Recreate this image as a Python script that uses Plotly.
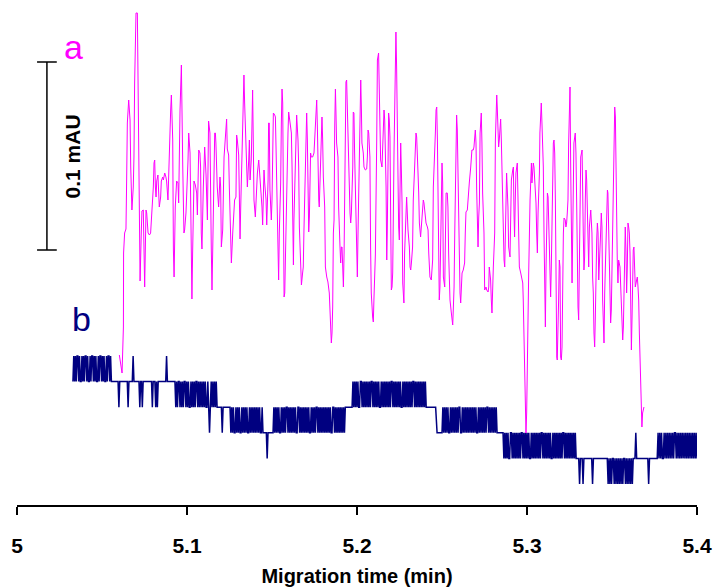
import numpy as np
import plotly.graph_objects as go

# ---------------- data: trace a (signal in ~µAU units, time in min) ----------------
a_time = [
 5.0602, 5.0618, 5.0626, 5.0627, 5.0633, 5.0641, 5.0645, 5.0649, 5.0657, 5.0665,
 5.0669, 5.0676, 5.0684, 5.0688, 5.0692, 5.0700, 5.0708, 5.0716, 5.0720, 5.0724,
 5.0731, 5.0735, 5.0743, 5.0747, 5.0751, 5.0759, 5.0763, 5.0771, 5.0779, 5.0786,
 5.0794, 5.0802, 5.0806, 5.0810, 5.0814, 5.0818, 5.0822, 5.0829, 5.0837, 5.0845,
 5.0849, 5.0857, 5.0861, 5.0869, 5.0876, 5.0880, 5.0888, 5.0896, 5.0904, 5.0908,
 5.0916, 5.0920, 5.0924, 5.0931, 5.0939, 5.0947, 5.0951, 5.0959, 5.0967, 5.0975,
 5.0979, 5.0982, 5.0986, 5.0994, 5.1006, 5.1010, 5.1018, 5.1022, 5.1026, 5.1029,
 5.1033, 5.1041, 5.1049, 5.1057, 5.1061, 5.1069, 5.1076, 5.1080, 5.1084, 5.1088,
 5.1096, 5.1104, 5.1112, 5.1120, 5.1127, 5.1135, 5.1143, 5.1147, 5.1151, 5.1155,
 5.1163, 5.1167, 5.1170, 5.1178, 5.1186, 5.1194, 5.1198, 5.1202,
 5.1210, 5.1218, 5.1229, 5.1233, 5.1237, 5.1245, 5.1249, 5.1257, 5.1261, 5.1269,
 5.1273, 5.1280, 5.1288, 5.1292, 5.1296, 5.1304, 5.1312, 5.1316, 5.1324, 5.1331,
 5.1335, 5.1339, 5.1347, 5.1355, 5.1363, 5.1367, 5.1371, 5.1378, 5.1382, 5.1386,
 5.1390, 5.1394, 5.1402, 5.1406, 5.1414, 5.1422, 5.1426, 5.1429, 5.1437, 5.1441,
 5.1445, 5.1449, 5.1453, 5.1457, 5.1465, 5.1469, 5.1477, 5.1480, 5.1484, 5.1488,
 5.1492, 5.1496, 5.1500, 5.1504, 5.1508, 5.1516, 5.1520, 5.1524, 5.1531, 5.1535,
 5.1539, 5.1543, 5.1551, 5.1555, 5.1559, 5.1563, 5.1567, 5.1571, 5.1575, 5.1578,
 5.1582, 5.1586, 5.1594, 5.1598, 5.1602, 5.1606, 5.1614, 5.1618, 5.1622, 5.1626,
 5.1629, 5.1637, 5.1641, 5.1645, 5.1653, 5.1657, 5.1661, 5.1665, 5.1669, 5.1673,
 5.1680, 5.1684, 5.1688, 5.1696, 5.1700, 5.1704, 5.1708, 5.1712, 5.1716, 5.1720,
 5.1724, 5.1727, 5.1731, 5.1739, 5.1747, 5.1751, 5.1759, 5.1763, 5.1767, 5.1771,
 5.1775, 5.1778, 5.1782, 5.1786, 5.1790, 5.1794, 5.1798, 5.1802, 5.1810, 5.1814,
 5.1822, 5.1829, 5.1837,
 5.1845, 5.1849, 5.1853, 5.1857, 5.1861, 5.1865, 5.1869, 5.1873, 5.1876, 5.1880,
 5.1888, 5.1892, 5.1900, 5.1904, 5.1908, 5.1912, 5.1916, 5.1920, 5.1924, 5.1927,
 5.1935, 5.1939, 5.1947, 5.1955, 5.1959, 5.1963, 5.1967, 5.1975, 5.1978, 5.1982,
 5.1986, 5.1994, 5.1998, 5.2002, 5.2006, 5.2014, 5.2018, 5.2022, 5.2026, 5.2029,
 5.2037, 5.2041, 5.2049, 5.2057, 5.2061, 5.2065, 5.2069, 5.2076, 5.2080, 5.2084,
 5.2092, 5.2096, 5.2100, 5.2104, 5.2108, 5.2116, 5.2120, 5.2127, 5.2131, 5.2139,
 5.2147, 5.2151, 5.2159, 5.2163, 5.2171, 5.2175, 5.2178, 5.2186, 5.2190, 5.2194,
 5.2198, 5.2202, 5.2206, 5.2210, 5.2218, 5.2222, 5.2229, 5.2233, 5.2237, 5.2245,
 5.2249, 5.2253, 5.2257, 5.2261, 5.2265, 5.2269, 5.2276, 5.2280, 5.2288, 5.2292,
 5.2300, 5.2308, 5.2312, 5.2316, 5.2320, 5.2327, 5.2331, 5.2335, 5.2339, 5.2343,
 5.2347, 5.2351, 5.2355, 5.2359, 5.2363, 5.2367, 5.2374, 5.2382, 5.2390, 5.2394,
 5.2398, 5.2402, 5.2406, 5.2414, 5.2418, 5.2422, 5.2426, 5.2429, 5.2437, 5.2441,
 5.2445, 5.2449, 5.2453, 5.2457, 5.2461, 5.2465, 5.2469,
 5.2473, 5.2476, 5.2480, 5.2484, 5.2488, 5.2492, 5.2500, 5.2504, 5.2508, 5.2516,
 5.2520, 5.2524, 5.2531, 5.2535, 5.2539, 5.2543, 5.2547, 5.2555, 5.2563, 5.2567,
 5.2571, 5.2575, 5.2578, 5.2582, 5.2586, 5.2590, 5.2594, 5.2598, 5.2602, 5.2606,
 5.2610, 5.2614, 5.2618, 5.2625, 5.2633, 5.2637, 5.2641, 5.2649, 5.2653, 5.2657,
 5.2661, 5.2669, 5.2672, 5.2676, 5.2684, 5.2688, 5.2696, 5.2700, 5.2704, 5.2708,
 5.2712, 5.2716, 5.2720, 5.2724, 5.2727, 5.2731, 5.2735, 5.2739, 5.2747, 5.2751,
 5.2759, 5.2763, 5.2771, 5.2775, 5.2778, 5.2786, 5.2790, 5.2794, 5.2802, 5.2810,
 5.2814, 5.2818, 5.2822, 5.2825, 5.2829, 5.2833, 5.2837, 5.2841, 5.2845, 5.2849,
 5.2853, 5.2857, 5.2865, 5.2869, 5.2873, 5.2876, 5.2880, 5.2888, 5.2892, 5.2900,
 5.2904, 5.2908, 5.2916, 5.2920, 5.2924, 5.2927, 5.2931, 5.2935, 5.2943, 5.2947,
 5.2951, 5.2955, 5.2963, 5.2971, 5.2975, 5.2978, 5.2982, 5.2986, 5.2990, 5.2994,
 5.2998, 5.3002, 5.3006, 5.3010, 5.3018, 5.3022, 5.3026, 5.3029, 5.3033, 5.3037,
 5.3041, 5.3045, 5.3053, 5.3057, 5.3061, 5.3065, 5.3073, 5.3076, 5.3084, 5.3088,
 5.3096, 5.3100, 5.3104, 5.3108,
 5.3112, 5.3116, 5.3120, 5.3124, 5.3127, 5.3131, 5.3135, 5.3139, 5.3143, 5.3147,
 5.3151, 5.3155, 5.3159, 5.3163, 5.3167, 5.3171, 5.3175, 5.3178, 5.3182, 5.3186,
 5.3190, 5.3194, 5.3198, 5.3202, 5.3206, 5.3210, 5.3214, 5.3218, 5.3225, 5.3229,
 5.3233, 5.3237, 5.3241, 5.3245, 5.3249, 5.3253, 5.3257, 5.3261, 5.3265, 5.3269,
 5.3273, 5.3276, 5.3284, 5.3288, 5.3292, 5.3296, 5.3300, 5.3304, 5.3308, 5.3312,
 5.3316, 5.3324, 5.3327, 5.3331, 5.3335, 5.3339, 5.3343, 5.3347, 5.3351, 5.3355,
 5.3359, 5.3363, 5.3367, 5.3371, 5.3375, 5.3378, 5.3382, 5.3386, 5.3390, 5.3394,
 5.3398, 5.3402, 5.3406, 5.3410, 5.3414, 5.3418, 5.3422, 5.3425, 5.3429, 5.3433,
 5.3437, 5.3441, 5.3445, 5.3449, 5.3453, 5.3457, 5.3461, 5.3465, 5.3469, 5.3473,
 5.3476, 5.3480, 5.3484, 5.3488, 5.3492, 5.3496, 5.3500, 5.3504, 5.3508, 5.3512,
 5.3516, 5.3520, 5.3524, 5.3527, 5.3531, 5.3535, 5.3539, 5.3547, 5.3551, 5.3555,
 5.3559, 5.3563, 5.3567, 5.3571, 5.3575, 5.3578, 5.3582, 5.3586, 5.3590, 5.3594,
 5.3598, 5.3602, 5.3606, 5.3610, 5.3614, 5.3618, 5.3622, 5.3625, 5.3629, 5.3633,
 5.3637, 5.3645, 5.3649, 5.3653, 5.3657, 5.3661, 5.3665, 5.3669, 5.3673, 5.3676,
 5.3680, 5.3684, 5.3688,
]
a_signal = [
 75, 66, 89, 126, 136, 138, 162.5, 191, 202.5, 192.5,
 169, 147.5, 159, 174, 211, 246, 246, 182.5, 129, 112,
 136, 147, 147.5, 121, 109, 147.5, 146, 136, 135, 136,
 146, 159, 171, 172.5, 159, 154, 162, 165, 149, 154,
 162, 164, 162.5, 166, 164, 162, 152.5, 181, 197.5, 205,
 182.5, 127.5, 114, 149, 162, 161, 151, 197.5, 220, 169,
 149, 136, 137.5, 146, 172.5, 186, 176, 152.5, 121, 103,
 126, 162, 160, 156, 145, 177.5, 176, 169, 136, 128,
 159, 179, 165, 142.5, 192, 186, 127.5, 107.5, 126, 152.5,
 186, 186, 181, 159, 149, 164, 159, 129,
 137.5, 174, 192.5, 193, 178, 175, 159, 126, 121, 136,
 144, 152.5, 154, 185, 182.5, 175, 133, 149, 179, 214,
 215, 201, 174, 159, 172.5, 182.5, 162.5, 172.5, 189, 207.5,
 181, 152.5, 144, 152.5, 166, 172.5, 167.5, 166, 156, 149,
 140, 159, 167.5, 161, 152.5, 140, 162.5, 191, 191, 157.5,
 151, 142.5, 152.5, 186, 196, 195, 194, 177.5, 146, 126,
 112.5, 136, 161, 191, 208, 201, 152.5, 104, 106, 119,
 139, 159, 186, 196.5, 194, 189, 186, 169, 132.5, 120,
 142.5, 172.5, 187.5, 195, 182.5, 169, 139, 126, 116, 110,
 116, 119, 137.5, 176, 189, 196, 182.5, 152.5, 136.5, 144,
 159, 176, 174, 174, 176, 182.5, 202.5, 202.5, 189, 159,
 152.5, 149, 162.5, 174, 192.5, 194, 182.5, 164, 149, 119,
 114, 111.5, 106,
 89, 81, 86, 99, 136, 142.5, 189, 208, 197.5, 181,
 174, 149, 129, 121, 129, 129, 119, 109, 126, 159,
 211.5, 212.5, 179, 154, 146, 141, 146, 169, 196.5, 196,
 176, 136, 129, 114, 136, 186, 204, 212.5, 197.5, 181,
 176, 169, 167.5, 168, 174, 187.5, 186, 174, 128.5, 106,
 94, 91.5, 104, 116, 125, 182.5, 222.5, 226, 211, 172.5,
 169, 179, 197.5, 192.5, 159, 122.5, 136, 196, 192.5, 184,
 144, 107.5, 109, 116, 177.5, 202.5, 236.5, 219, 189, 139,
 132.5, 171, 181, 167.5, 151, 111, 101, 126, 154, 154,
 137.5, 129, 119, 117.5, 121, 129, 152.5, 167.5, 169, 177.5,
 186, 184, 177.5, 166, 156, 141, 134, 146, 152.5, 151,
 146, 142.5, 141, 139, 137.5, 126, 116, 114, 112.5, 116,
 122.5, 159, 172.5, 176, 186, 197.5, 199,
 182.5, 166, 126, 102.5, 109, 136, 171, 161, 114, 109,
 136, 156, 156, 149, 126, 106, 102.5, 96, 90, 99,
 109, 136, 159, 186, 195, 187.5, 162.5, 132.5, 112.5, 106,
 101, 106, 116, 117.5, 121, 136, 146.5, 147.5, 152.5, 161,
 161.5, 169, 176, 177.5, 177.5, 179, 187.5, 181, 157.5, 139,
 129, 144, 151, 186, 196, 196, 181, 156, 136, 107.5,
 109, 107.5, 106.5, 109, 119, 112.5, 102.5, 96, 119, 136,
 182.5, 204, 205, 199, 189, 179, 182.5, 192.5, 193, 182.5,
 166, 137.5, 122.5, 119, 137.5, 161, 166, 149, 129, 124,
 152.5, 162.5, 167.5, 169, 144, 134, 152.5, 166, 171, 152.5,
 129, 119, 116, 112.5, 111, 102.5, 86, 52.5, 47.5, 36,
 46, 81, 92.5, 116, 152.5, 169, 171, 161, 167.5, 171,
 169, 164, 151, 136, 126, 146, 166, 186, 201, 191,
 169, 136, 97.5, 89,
 119, 147.5, 156, 154, 146, 126, 114, 104, 119, 136,
 169, 181, 182.5, 176, 152.5, 102.5, 74, 72.5, 82.5, 102.5,
 122.5, 119, 74, 72.5, 79, 116, 136, 143.5, 142.5, 139,
 141, 146, 152.5, 181, 202.5, 209, 169, 127.5, 111, 136,
 162.5, 181, 186, 176, 152.5, 119, 99, 92.5, 116, 159,
 174, 177.5, 166, 136, 117.5, 124, 152.5, 167.5, 162.5, 144,
 126, 119, 139, 146, 147.5, 142.5, 136, 114, 106, 86,
 79, 94, 119, 132.5, 141, 136, 112.5, 122.5, 127.5, 136,
 146, 139, 102.5, 84, 81, 106, 119, 142.5, 152.5, 157.5,
 156, 136, 109, 94, 91, 97.5, 119, 152.5, 177.5, 189,
 199, 194, 159, 132.5, 122.5, 111, 122.5, 119, 111, 102.5,
 91, 82.5, 89, 119, 132.5, 139, 127.5, 106, 119, 141,
 139, 136, 126, 102.5, 77.5, 94, 126, 127.5, 129, 119,
 109, 112.5, 114, 109, 102.5, 86, 69, 61, 46, 39,
 46, 47.5, 49,
]

# ---------------- data: trace b (quantised detector levels) ----------------
b_levels = [74.5, 61.7, 48.9, 36.1, 23.3, 10.5]
# (segment start, segment end, sequence of level indices sampled evenly in the segment)
b_segments = [
    (5.0329, 5.0565, "1010100101101010010110100101011010010101101001011"),
    (5.0565, 5.0929, "1111111" "2" "1111111111" "2" "11111" "0" "1111111" "2" "11" "2"
                     "11111111111" "2" "111" "2" "1" "2" "1111111111" "0" "111111111"),
    (5.0929, 5.1182, "12121121212112121221212121121212121212212" "3" "212121212"),
    (5.1182, 5.1253, "22222322222222"),
    (5.1253, 5.1447, "232323323232332323232332323232323232332"),
    (5.1447, 5.1506, "333334333333"),
    (5.1506, 5.1941, "32323232332323232232323232323322323232323232332323232232323232323232323322323232323232322"),
    (5.1941, 5.1976, "2222222"),
    (5.1976, 5.2412, "12121212211212121212121121212121221212121212121121212121212212121212121211212121212121212"),
    (5.2412, 5.2471, "2222222"),
    (5.2471, 5.2500, "3333"),
    (5.2500, 5.2829, "323232323323232323232233232323232323232323323232323232232323232323"),
    (5.2829, 5.2859, "33333"),
    (5.2859, 5.3294, "34343434433434343434343343434343443434343434343343434343434434343434343433434343434343434"),
    (5.3294, 5.3635, "444" "5" "444" "5" "4444444444" "5" "4444444444444444"
                     "4545454454545454545445454545454" "4"),
    (5.3635, 5.3771, "43" "44444444444444" "5" "4444444444"),
    (5.3771, 5.4000, "3434344343434343434334343434343434343434343434"),
]

x_ticks = [5.0, 5.1, 5.2, 5.3, 5.4]
x_ticktext = ["5", "5.1", "5.2", "5.3", "5.4"]
bar_top, bar_len = 221.5, 94   # scale bar: 0.1 mAU expressed in signal units

# ---------------- build trace b ----------------
b_time, b_signal = [], []
for i, (t0, t1, pat) in enumerate(b_segments):
    last = i == len(b_segments) - 1
    ts = np.linspace(t0, t1, len(pat), endpoint=last)
    b_time.extend(ts.tolist())
    b_signal.extend(b_levels[int(c)] for c in pat)

FONT = "Arial, 'Liberation Sans', sans-serif"

fig = go.Figure()
fig.add_trace(go.Scatter(x=b_time, y=b_signal, mode="lines",
                         line=dict(color="#000080", width=1.5), hoverinfo="skip"))
fig.add_trace(go.Scatter(x=a_time, y=a_signal, mode="lines",
                         line=dict(color="#FF00FF", width=1), hoverinfo="skip"))

# scale bar
bx, cap = 5.0176, 0.0058
fig.add_shape(type="line", xref="x", yref="y", x0=bx, x1=bx, y0=bar_top - bar_len, y1=bar_top,
              line=dict(color="black", width=1.5))
for yy in (bar_top, bar_top - bar_len):
    fig.add_shape(type="line", xref="x", yref="y", x0=bx - cap, x1=bx + cap, y0=yy, y1=yy,
                  line=dict(color="black", width=1.5))

fig.add_annotation(x=5.0326, y=bar_top - bar_len / 2, xref="x", yref="y", text="0.1 mAU",
                   textangle=-90, showarrow=False,
                   font=dict(family=FONT, size=21, color="black", weight="bold"))
fig.add_annotation(x=5.0335, y=229, xref="x", yref="y", text="a", showarrow=False,
                   font=dict(family=FONT, size=34, color="#FF00FF"))
fig.add_annotation(x=5.0379, y=93, xref="x", yref="y", text="b", showarrow=False,
                   font=dict(family=FONT, size=34, color="#000080"))

fig.update_layout(
    width=714, height=587,
    margin=dict(l=17, r=17, t=5, b=82),
    paper_bgcolor="white", plot_bgcolor="white",
    showlegend=False,
    xaxis=dict(range=[5.0, 5.4], tickvals=x_ticks, ticktext=x_ticktext,
               showline=True, linecolor="black", linewidth=1.8,
               ticks="outside", ticklen=8, tickwidth=1.8, tickcolor="black",
               showgrid=False, zeroline=False, ticklabelstandoff=13, automargin=False,
               tickfont=dict(family=FONT, size=21, color="black", weight="bold"),
               title=dict(text="Migration time (min)", standoff=14,
                          font=dict(family=FONT, size=20, color="black", weight="bold"))),
    yaxis=dict(range=[0, 250], visible=False, showgrid=False, zeroline=False),
)

fig.write_html("out.html", config={"displayModeBar": False})

# remove the browser's default page margin so the figure sits at the window origin
with open("out.html", encoding="utf-8") as f:
    html = f.read()
html = html.replace("<body>", '<body style="margin:0">', 1)
with open("out.html", "w", encoding="utf-8") as f:
    f.write(html)
